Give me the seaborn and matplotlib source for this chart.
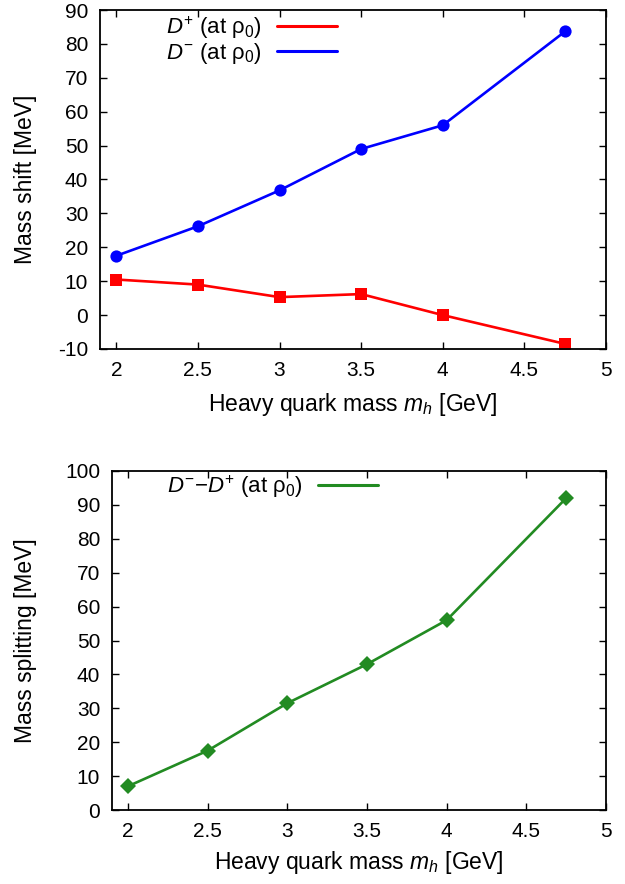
import matplotlib
matplotlib.use("Agg")
import matplotlib.pyplot as plt
import seaborn as sns
import pandas as pd
from matplotlib.lines import Line2D

mh = [2.0, 2.5, 3.0, 3.5, 4.0, 4.75]
d_plus = [10.5, 9.0, 5.3, 6.2, 0.0, -8.5]
d_minus = [17.5, 26.2, 36.8, 49.0, 56.0, 83.7]
splitting = [7.0, 17.5, 31.5, 43.0, 56.0, 92.0]

x_ticks = [2, 2.5, 3, 3.5, 4, 4.5, 5]
x_ticklabels = ["2", "2.5", "3", "3.5", "4", "4.5", "5"]

sns.set_style("ticks")
plt.rcParams["font.family"] = ["Liberation Sans", "DejaVu Sans"]
plt.rcParams["mathtext.fontset"] = "custom"
plt.rcParams["mathtext.rm"] = "Liberation Sans"
plt.rcParams["mathtext.it"] = "Liberation Sans:italic"
plt.rcParams["mathtext.bf"] = "Liberation Sans:bold"
plt.rcParams["axes.unicode_minus"] = False
plt.rcParams["text.color"] = "black"
plt.rcParams["axes.labelcolor"] = "black"
plt.rcParams["xtick.color"] = "black"
plt.rcParams["ytick.color"] = "black"
plt.rcParams["axes.edgecolor"] = "black"

fig = plt.figure(figsize=(6.25, 8.84), dpi=100)
W, H = 625, 884
ax1 = fig.add_axes([100 / W, 1 - 349 / H, (606 - 100) / W, (349 - 10) / H])
ax2 = fig.add_axes([112 / W, 1 - 810 / H, (606 - 112) / W, (810 - 471) / H])

df = pd.DataFrame({"mh": mh, "dp": d_plus, "dm": d_minus, "sp": splitting})

sns.lineplot(data=df, x="mh", y="dp", ax=ax1, color="#ff0000", marker="s",
             markersize=9.2, markeredgewidth=0, linewidth=1.9)
sns.lineplot(data=df, x="mh", y="dm", ax=ax1, color="#0000ff", marker="o",
             markersize=8.8, markeredgewidth=0, linewidth=1.9)
sns.lineplot(data=df, x="mh", y="sp", ax=ax2, color="#228b22", marker="D",
             markersize=8, markeredgewidth=0, linewidth=1.9)

tfs = 15
lfs = 16.5
for ax in (ax1, ax2):
    ax.set_xlim(1.9, 5.0)
    ax.set_xticks(x_ticks)
    ax.set_xticklabels(x_ticklabels)
    ax.tick_params(direction="in", top=True, right=True, labelsize=tfs,
                   length=5, width=1, pad=8.5)
    ax.set_xlabel(r"Heavy quark mass $m_h$ [GeV]", fontsize=lfs)
    for s in ax.spines.values():
        s.set_linewidth(1.3)
        s.set_color("black")

ax1.set_ylim(-10, 90)
ax1.set_yticks(range(-10, 91, 10))
ax1.set_ylabel("Mass shift [MeV]", fontsize=lfs)
ax2.set_ylim(0, 100)
ax2.set_yticks(range(0, 101, 10))
ax2.set_ylabel("Mass splitting [MeV]", fontsize=lfs)

ax1.xaxis.set_label_coords(0.5, -0.124)
ax2.xaxis.set_label_coords(0.5, -0.115)
ax1.yaxis.set_label_coords(-0.1245, 0.5)
ax2.yaxis.set_label_coords(-0.152, 0.5)

h1 = [Line2D([], [], color="#ff0000", lw=2.2), Line2D([], [], color="#0000ff", lw=2.2)]
ax1.legend(h1, [r"$D^{+}$ (at ρ$_0$)", r"$D^{-}$ (at ρ$_0$)"], loc="center right",
           bbox_to_anchor=(0.468, 0.912), frameon=False, markerfirst=False,
           fontsize=16, handlelength=2.7, handletextpad=0.68, labelspacing=0.0,
           borderpad=0, borderaxespad=0)
h2 = [Line2D([], [], color="#228b22", lw=2.2)]
ax2.legend(h2, [r"$D^{-}$−$D^{+}$ (at ρ$_0$)"], loc="center right",
           bbox_to_anchor=(0.538, 0.953), frameon=False, markerfirst=False,
           fontsize=16, handlelength=2.7, handletextpad=0.68,
           borderpad=0, borderaxespad=0)

fig.savefig("out.png", dpi=100)
